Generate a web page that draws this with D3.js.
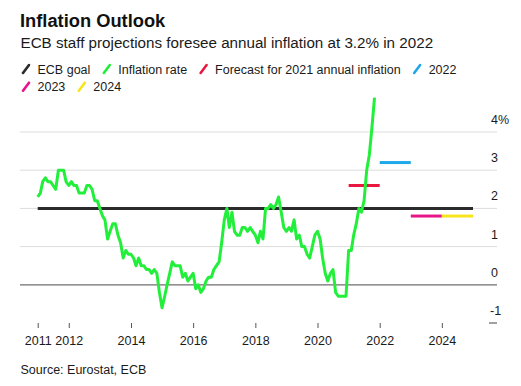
<!DOCTYPE html>
<html><head><meta charset="utf-8">
<script src="https://cdn.jsdelivr.net/npm/d3@7"></script>
<style>
body{margin:0;background:#fff;}
svg{display:block;font-family:"Liberation Sans",Arial,sans-serif;}
</style></head>
<body>
<script>
// ---- data ----
const startYear = 2011;
const inflation = [
  2.3,2.4,2.7,2.8,2.7,2.7,2.6,2.5,3.0,3.0,3.0,2.7,
  2.6,2.7,2.6,2.6,2.4,2.4,2.4,2.6,2.6,2.5,2.2,2.2,
  2.0,1.8,1.7,1.2,1.4,1.6,1.6,1.3,1.1,0.7,0.9,0.8,
  0.8,0.7,0.5,0.7,0.5,0.5,0.4,0.4,0.3,0.4,0.3,-0.2,
  -0.6,-0.3,0.0,0.3,0.6,0.5,0.5,0.5,0.2,0.3,0.1,0.2,
  0.3,-0.1,0.0,-0.2,-0.1,0.1,0.2,0.2,0.4,0.5,0.6,1.1,
  1.7,2.0,1.5,1.9,1.4,1.3,1.3,1.5,1.5,1.4,1.5,1.4,
  1.3,1.1,1.4,1.2,2.0,2.0,2.1,2.0,2.1,2.3,1.9,1.5,
  1.4,1.5,1.4,1.7,1.2,1.3,1.0,1.0,0.8,0.7,1.0,1.3,
  1.4,1.2,0.7,0.3,0.1,0.3,0.4,-0.2,-0.3,-0.3,-0.3,-0.3,
  0.9,0.9,1.3,1.6,2.0,1.9,2.2,3.0,3.4,4.1,4.9
];
const goal = 2;
const goalRange = [2011, 2025];
const forecastYears = [2021, 2022, 2023, 2024];
const forecastValues = [2.6, 3.2, 1.8, 1.8];
const yTicks = [-1, 0, 1, 2, 3, 4];
const xTickYears = [2011, 2012, 2014, 2016, 2018, 2020, 2022, 2024];
const legendLabels = ["ECB goal", "Inflation rate", "Forecast for 2021 annual inflation", "2022", "2023", "2024"];
const colors = {goal:"#2b2b2b", infl:"#22ef3a", f2021:"#e8183f", f2022:"#1ea8ea", f2023:"#e6168a", f2024:"#f6e41c"};
const legendColors = [colors.goal, colors.infl, colors.f2021, colors.f2022, colors.f2023, colors.f2024];
const forecastColors = [colors.f2021, colors.f2022, colors.f2023, colors.f2024];

const W = 521, H = 386;
const svg = d3.select("body").append("svg").attr("width", W).attr("height", H);

const x = d3.scaleTime().domain([new Date(2011,0,1), new Date(2025,0,1)]).range([37.7, 473]);
const y = d3.scaleLinear().domain([-1, 4]).range([323, 132]);
const gridX0 = 20, gridX1 = 497;

// title
svg.append("text").attr("x", 20).attr("y", 27).attr("font-size", 18.3).attr("font-weight", "bold").attr("fill", "#111").text("Inflation Outlook");
svg.append("text").attr("x", 20.5).attr("y", 48).attr("font-size", 15.2).attr("fill", "#1a1a1a").text("ECB staff projections foresee annual inflation at 3.2% in 2022");

// legend
const lg = svg.append("g");
let lx = 21, ly = 69;
legendLabels.forEach((lab, i) => {
  const tmp = lg.append("text").attr("font-size", 12.5).attr("fill", "#1a1a1a").text(lab);
  const tw = tmp.node().getComputedTextLength();
  if (lx + 16.5 + tw > 505) { lx = 21; ly += 17.7; }
  lg.append("line").attr("x1", lx + 2).attr("y1", ly + 4).attr("x2", lx + 8).attr("y2", ly - 4)
    .attr("stroke", legendColors[i]).attr("stroke-width", 2.6).attr("stroke-linecap", "round");
  tmp.attr("x", lx + 16.5).attr("y", ly + 4.5);
  lx += 16.5 + tw + 11.5;
});

// gridlines
const grid = svg.append("g");
yTicks.filter(t => t >= 1).forEach(t => {
  grid.append("line").attr("x1", gridX0).attr("x2", gridX1).attr("y1", y(t)).attr("y2", y(t))
    .attr("stroke", "#dcdcdc").attr("stroke-width", 1);
});
grid.append("line").attr("x1", gridX0).attr("x2", gridX1).attr("y1", y(0)).attr("y2", y(0))
  .attr("stroke", "#6e6e6e").attr("stroke-width", 1.3);
grid.append("line").attr("x1", 489).attr("x2", gridX1).attr("y1", y(-1)).attr("y2", y(-1))
  .attr("stroke", "#6e6e6e").attr("stroke-width", 1.3);

// y labels
yTicks.forEach(t => {
  svg.append("text").attr("x", t < 0 ? 490 : 491).attr("y", y(t) - 8).attr("font-size", 12.5).attr("fill", "#1a1a1a")
    .text(t === 4 ? "4%" : String(t));
});

// x axis
const xAxis = d3.axisBottom(x).tickValues(xTickYears.map(yr => new Date(yr,0,1)))
  .tickFormat(d3.timeFormat("%Y")).tickSize(5).tickPadding(8);
const xg = svg.append("g").attr("transform", `translate(0,${y(-1)})`).call(xAxis);
xg.select(".domain").remove();
xg.selectAll(".tick line").attr("stroke", "#555").attr("stroke-width", 1);
xg.selectAll(".tick text").attr("font-size", 12.5).attr("fill", "#1a1a1a").attr("font-family", "'Liberation Sans',Arial,sans-serif");

// goal line
svg.append("line").attr("x1", x(new Date(goalRange[0],0,1))).attr("x2", x(new Date(goalRange[1],0,1)))
  .attr("y1", y(goal)).attr("y2", y(goal)).attr("stroke", colors.goal).attr("stroke-width", 3);

// forecasts
forecastYears.forEach((yr, i) => {
  svg.append("line").attr("x1", x(new Date(yr,0,1))).attr("x2", x(new Date(yr+1,0,1)))
    .attr("y1", y(forecastValues[i])).attr("y2", y(forecastValues[i]))
    .attr("stroke", forecastColors[i]).attr("stroke-width", 3);
});

// inflation line
const pts = inflation.map((v, i) => ({d: new Date(startYear, i, 1), v}));
svg.append("path").datum(pts)
  .attr("d", d3.line().x(p => x(p.d)).y(p => y(p.v)))
  .attr("fill", "none").attr("stroke", colors.infl).attr("stroke-width", 3).attr("stroke-linejoin", "round");

// source
svg.append("text").attr("x", 20.5).attr("y", 373.5).attr("font-size", 12.5).attr("fill", "#1a1a1a").text("Source: Eurostat, ECB");
</script>
</body></html>
